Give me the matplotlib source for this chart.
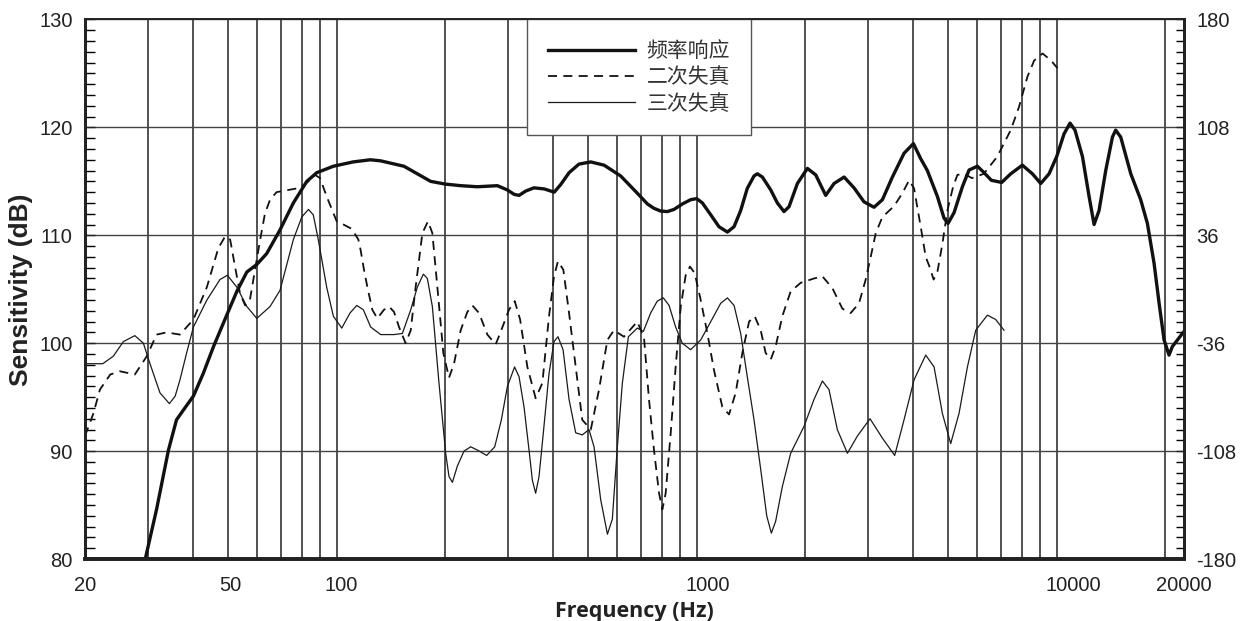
import numpy as np
import matplotlib
matplotlib.use("Agg")
from matplotlib import pyplot as plt
from matplotlib.ticker import FixedLocator, NullFormatter

plt.rcParams['font.family'] = ['Liberation Sans', 'Noto Sans CJK SC', 'DejaVu Sans']
plt.rcParams['axes.unicode_minus'] = False

# frequency response (Hz, dB)
fr_freq = [20, 29.4, 31.6, 34.1, 35.9, 37.5, 40.0, 42.6, 45.5, 49.5, 52.8, 56.3, 60.0, 63.9,
           69.6, 75.8, 82.6, 88.0, 97.9, 111, 124, 132.5, 153.8, 167.5, 182.4, 200, 221,
           245.8, 279.5, 298, 311, 321, 335, 353, 377, 402, 419, 442, 471, 508, 553, 615,
           684, 730, 761, 794, 829, 865, 912, 962, 1000, 1037, 1094, 1153, 1217, 1270,
           1325, 1382, 1443, 1474, 1522, 1606, 1675, 1748, 1805, 1904, 2030, 2141, 2282,
           2407, 2567, 2735, 2916, 3109, 3280, 3496, 3766, 3999, 4190, 4372, 4662, 4863,
           4990, 5186, 5470, 5708, 6022, 6243, 6583, 7034, 7452, 8027, 8560, 9029, 9522,
           10000, 10480, 10890, 11240, 11790, 12300, 12700, 13110, 13690, 14280, 14580,
           15060, 16060, 17110, 17860, 18640, 19250, 19870, 20510, 20960, 22580]
fr_db = [80.0, 80.0, 84.6, 90.1, 92.9, 93.8, 95.1, 97.2, 99.7, 102.6, 104.8, 106.6, 107.3, 108.3,
         110.5, 113.0, 115.0, 115.8, 116.4, 116.8, 117.0, 116.9, 116.4, 115.7, 115.0, 114.75, 114.6,
         114.5, 114.6, 114.2, 113.8, 113.7, 114.1, 114.4, 114.3, 114.0, 114.7, 115.8, 116.6, 116.8, 116.5, 115.5,
         113.9, 112.9, 112.5, 112.25, 112.2, 112.4, 112.9, 113.3, 113.4, 113.0, 111.9, 110.8, 110.3, 110.8,
         112.3, 114.35, 115.5, 115.7, 115.4, 114.2, 113.0, 112.2, 112.65, 114.8, 116.2, 115.6, 113.7,
         114.8, 115.4, 114.4, 113.1, 112.6, 113.3, 115.4, 117.6, 118.5, 117.1, 116.0, 113.6, 111.6,
         111.1, 112.1, 114.5, 116.05, 116.4, 115.9, 115.1, 114.9, 115.7, 116.5, 115.7, 114.8, 115.7,
         117.3, 119.4, 120.4, 119.75, 117.3, 113.6, 111.0, 112.3, 116.05, 119.1, 119.75,
         119.1, 115.7, 113.3, 111.1, 107.4, 103.7, 100.3, 98.9, 99.7, 101.1]

# second harmonic distortion (Hz, dB)
h2_freq = [20, 21.1, 22.0, 23.5, 25.0, 27.5, 29.7, 31.6, 33.7, 36.7, 40.0, 43.6, 46.9, 49.0,
           50.6, 52.2, 53.9, 55.7, 57.4, 59.3, 61.3, 63.2, 65.3, 68.1, 79.1, 84.3, 87.1, 89.9,
           93.8, 100, 104.4, 110.1, 114.9, 116.6, 119.1, 121.7, 125.6, 129.7, 135.3, 139.8,
           144.3, 149, 155.4, 160.6, 165.7, 173, 179.3, 184.4, 190.4, 197.8, 205.1, 211.8,
           221, 230.7, 238.2, 248.5, 262.1, 276.5, 284.3, 301, 312.3, 323.2, 338.6, 357,
           372.6, 388.9, 401.5, 411.8, 426.2, 442, 461.2, 481, 508, 535.4, 564.9, 589, 628,
           684, 714, 737, 761, 786, 803, 820, 847, 874, 903, 932, 958, 987, 1026, 1071, 1117,
           1178, 1230, 1283, 1339, 1398, 1449, 1506, 1554, 1606, 1657, 1729, 1824, 1945,
           2118, 2234, 2382, 2539, 2678, 2824, 2947, 3043, 3143, 3280, 3533, 3726, 3890,
           4015, 4190, 4326, 4432, 4551, 4662, 4813, 4970, 5155, 5299, 5530, 5814, 6272,
           6839, 7452, 7858, 8292, 8658, 9137, 9642, 10040]
h2_db = [91.4, 93.5, 95.7, 97.1, 97.4, 97.1, 98.8, 100.8, 101.0, 100.8, 102.2, 105.2, 108.8, 109.9,
         109.6, 107.1, 104.6, 103.5, 104.0, 106.8, 109.6, 112.0, 113.3, 114.0, 114.4, 115.1, 115.6, 115.3,
         113.6, 111.3, 111.0, 110.6, 109.6, 108.6, 106.8, 105.2, 103.1, 102.3, 103.1, 103.4,
         102.9, 101.5, 100.0, 101.2, 105.2, 110.2, 111.3, 110.2, 105.2, 99.1, 96.8, 98.1,
         101.2, 102.9, 103.5, 102.8, 100.8, 99.9, 100.9, 103.1, 103.9, 102.2, 97.8, 94.9,
         96.3, 102.5, 106.2, 107.6, 106.8, 102.8, 97.8, 92.9, 92.0, 95.7, 100.3, 101.2, 100.6,
         102.0, 100.5, 94.8, 90.1, 86.1, 84.6, 86.1, 91.7, 97.8, 103.4, 106.3, 107.1, 106.5, 104.0, 100.9, 97.5,
         94.1, 93.4, 95.4, 99.1, 102.0, 102.5, 101.2, 99.1, 98.5, 99.7, 102.5, 104.8, 105.6,
         106.0, 106.2, 105.1, 103.2, 102.8, 103.7, 105.9, 108.0, 110.2, 111.7, 112.7, 113.9, 115.1,
         114.35, 110.8, 108.0, 107.1, 105.9, 106.6, 109.2, 112.3, 114.5, 115.6, 115.7, 115.3, 115.7,
         117.3, 119.75, 121.9, 124.7, 126.2, 126.85, 126.2, 125.5]

# third harmonic distortion (Hz, dB)
h3_freq = [20, 22.4, 23.97, 25.56, 27.5, 29.05, 30.3, 32.3, 34.3, 35.6, 36.7, 38.3, 40.0, 43.6,
           47.4, 49.7, 52.8, 56.3, 60.0, 65.3, 69.6, 75.8, 80.0, 83.5, 86.1, 88.9, 93.8, 97.9,
           103.3, 108.9, 113.7, 118.6, 124.3, 132.5, 144.3, 152.2, 160.6, 167.5, 174.1, 178.6,
           184.4, 192.4, 200.8, 205.1, 209.6, 216.3, 225.8, 235.6, 245.8, 261, 274.8, 286.7,
           298, 312, 321, 331.4, 342.2, 349.6, 357, 364.8, 375, 388.9, 401.5, 411.8, 425.4,
           442, 461.2, 481, 502.2, 518.6, 541.2, 565, 583, 602, 621.6, 646, 684, 711, 745,
           777, 808, 838, 874, 912, 962, 1026, 1094, 1166, 1217, 1270, 1325, 1382, 1443,
           1506, 1565, 1612, 1657, 1729, 1824, 1987, 2118, 2234, 2331, 2458, 2622, 2795,
           3030, 3280, 3548, 3766, 4015, 4326, 4564, 4813, 5076, 5354, 5649, 5957, 6419,
           6769, 7140]
h3_db = [98.1, 98.1, 98.8, 100.15, 100.7, 100.0, 98.1, 95.4, 94.4, 95.1, 96.6, 99.1, 101.5, 104.0,
         105.9, 106.3, 105.2, 103.4, 102.3, 103.4, 104.9, 109.6, 111.7, 112.4, 111.9, 109.6, 105.2, 102.5,
         101.4, 102.8, 103.5, 103.1, 101.5, 100.8, 100.8, 100.9, 103.1, 105.2, 106.4, 106.0,
         103.4, 96.3, 89.8, 87.65, 87.1, 88.6, 90.0, 90.4, 90.1, 89.6, 90.4, 92.9,
         96.0, 97.8, 96.9, 94.1, 90.1, 87.3, 86.1, 87.65, 91.7, 97.2, 100.15, 100.6, 99.4,
         94.8, 91.7, 91.5, 92.0, 90.4, 85.5, 82.3, 83.7, 90.4, 96.3, 100.6, 101.4, 101.1, 102.8,
         103.9, 104.2, 103.5, 101.5, 100.0, 99.4, 100.3, 102.0, 103.7, 104.2, 103.5, 100.9, 96.9, 92.9,
         88.3, 84.0, 82.4, 83.5, 86.7, 89.8, 92.3, 94.8, 96.5, 95.7, 92.0, 89.8, 91.4,
         93.0, 91.2, 89.6, 92.9, 96.6, 98.9, 97.8, 93.5, 90.7, 93.5, 97.8, 101.2, 102.6,
         102.2, 101.2]

labels = ['频率响应', '二次失真', '三次失真']
x_labels = [20, 50, 100, 1000, 10000, 20000]
grid_freqs = [30, 40, 50, 60, 70, 80, 90, 100, 200, 300, 400, 500, 600, 700, 800, 900,
              1000, 2000, 3000, 4000, 5000, 6000, 7000, 8000, 9000, 10000, 20000]
left_ticks = [80, 90, 100, 110, 120, 130]
right_ticks = [-180, -108, -36, 36, 108, 180]

XMIN, XMAX = 20, 22570

fig = plt.figure(figsize=(12.45, 6.21), dpi=100)
ax = fig.add_axes([0.0683, 0.0998, 0.951 - 0.0683, 0.9686 - 0.0998])

ax.plot(fr_freq, fr_db, color='#111111', lw=2.4, label=labels[0], zorder=4,
        solid_joinstyle='round')
ax.plot(h2_freq, h2_db, color='#111111', lw=1.3, ls=(0, (5, 3.5)), label=labels[1], zorder=3)
ax.plot(h3_freq, h3_db, color='#1a1a1a', lw=0.9, label=labels[2], zorder=3,
        solid_joinstyle='round')

ax.set_xscale('log')
ax.set_xlim(XMIN, XMAX)
ax.set_ylim(80, 130)

# tick labels sit where a 20..20000 axis would put them
span = np.log(XMAX / XMIN)
label_pos = [XMIN * np.exp(np.log(f / XMIN) / np.log(1000) * span) for f in x_labels]
ax.xaxis.set_major_locator(FixedLocator(label_pos))
ax.set_xticklabels([str(f) for f in x_labels])
ax.xaxis.set_minor_locator(FixedLocator(grid_freqs))
ax.xaxis.set_minor_formatter(NullFormatter())
ax.tick_params(axis='x', which='both', length=0, pad=12, labelsize=14.5, colors='#222222')
ax.grid(True, which='minor', axis='x', color='#222222', lw=1.1)

ax.set_yticks(left_ticks)
ax.set_yticks(np.arange(80, 131, 1), minor=True)
ax.tick_params(axis='y', which='major', direction='in', length=7, width=1, pad=9,
               labelsize=14.5, colors='#222222')
ax.tick_params(axis='y', which='minor', direction='in', length=7, width=1)
ax.grid(True, which='major', axis='y', color='#444444', lw=1.0)

ax2 = ax.twinx()
ax2.set_ylim(-180, 180)
ax2.set_yticks(right_ticks)
ax2.set_yticks(np.arange(-180, 181, 7.2), minor=True)
ax2.tick_params(axis='y', which='major', direction='in', length=6, width=1, pad=9,
                labelsize=14.5, colors='#222222')
ax2.tick_params(axis='y', which='minor', direction='in', length=6, width=1)

for a in (ax, ax2):
    a.spines['bottom'].set_linewidth(2.6)
    a.spines['left'].set_linewidth(2.0)
    a.spines['right'].set_linewidth(2.0)
    a.spines['top'].set_linewidth(1.2)
    for s in a.spines.values():
        s.set_color('#222222')

ax.set_ylabel('Sensitivity (dB)', fontsize=19, fontweight='bold', color='#222222')
ax.yaxis.set_label_coords(-0.047, 0.5)
ax.set_xlabel('Frequency (Hz)', fontsize=15.5, fontweight='bold', color='#222222',
              family=['Open Sans', 'DejaVu Sans'])
ax.xaxis.set_label_coords(0.5, -0.078)

leg = ax.legend(loc='upper left', bbox_to_anchor=(0.402, 1.0), borderaxespad=0,
                handlelength=4.2, handletextpad=0.55, borderpad=1.0, labelspacing=0.2,
                fancybox=False, framealpha=1, edgecolor='#555555',
                prop={'family': ['Noto Sans CJK SC', 'DejaVu Sans'], 'size': 15})
leg.get_frame().set_linewidth(1.0)
leg.set_zorder(10)
for t in leg.get_texts():
    t.set_color('#333333')

fig.savefig('out.png', dpi=100)
